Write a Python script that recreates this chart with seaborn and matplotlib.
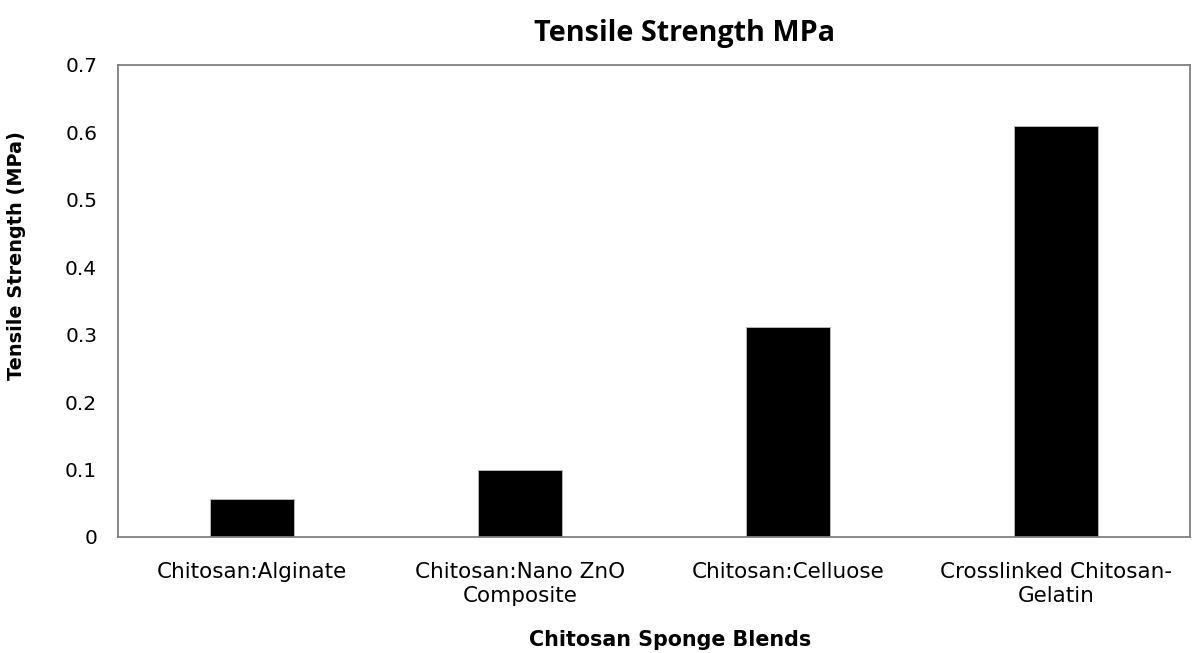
import matplotlib
matplotlib.use("Agg")
import matplotlib.pyplot as plt
import seaborn as sns
import pandas as pd

categories = ["Chitosan:Alginate", "Chitosan:Nano ZnO\nComposite", "Chitosan:Celluose", "Crosslinked Chitosan-\nGelatin"]
values = [0.057, 0.100, 0.312, 0.610]
yticks = [0, 0.1, 0.2, 0.3, 0.4, 0.5, 0.6, 0.7]
ytick_labels = ["0", "0.1", "0.2", "0.3", "0.4", "0.5", "0.6", "0.7"]

sns.set_theme(style="white")
plt.rcParams['font.family'] = ['DejaVu Sans']

df = pd.DataFrame({"cat": categories, "val": values})
fig = plt.figure(figsize=(11.92, 6.53), dpi=100)
ax = fig.add_axes([118/1192, 1 - 537/653, (1190 - 118)/1192, (537 - 65)/653])
sns.barplot(data=df, x="cat", y="val", color="black", width=0.31, ax=ax, saturation=1)
for p in ax.patches:
    p.set_edgecolor("#bfbfbf")
    p.set_linewidth(0.6)
ax.set_ylim(0, 0.7)
ax.set_yticks(yticks)
ax.set_yticklabels(ytick_labels, fontsize=14.5)
ax.tick_params(axis='x', labelsize=14, pad=18, length=0, colors="black")
ax.tick_params(axis='y', pad=15, length=0, colors="black")
for lab in ax.get_xticklabels():
    lab.set_linespacing(1.25)
for s in ["left", "bottom", "top", "right"]:
    ax.spines[s].set_visible(True)
    ax.spines[s].set_color("#808080")
    ax.spines[s].set_linewidth(1.3)
ax.set_xlabel("Chitosan Sponge Blends", fontsize=13.5, fontweight="bold", color="black")
ax.xaxis.set_label_coords((670 - 118) / 1072, -(640 - 537) / 472)
ax.xaxis.label.set_va("center")
ax.set_ylabel("Tensile Strength (MPa)", fontsize=12.5, fontweight="bold", color="black")
ax.yaxis.set_label_coords((17 - 118) / 1072, (537 - 256) / 472)
ax.yaxis.label.set_va("center")
title = fig.text(684/1192, 1 - 33/653, "Tensile Strength MPa", ha="center", va="center",
                 fontsize=19, fontweight="bold", family="Open Sans", color="black")

# fit text widths to the reference measurements
fig.canvas.draw()
r = fig.canvas.get_renderer()
def fit(t, target, horizontal=True):
    bb = t.get_window_extent(r)
    w = bb.width if horizontal else bb.height
    t.set_fontsize(t.get_fontsize() * target / w)
fit(title, 300)
fit(ax.xaxis.label, 283)
fit(ax.yaxis.label, 248, horizontal=False)
fit(ax.get_xticklabels()[0], 190)
fs = ax.get_xticklabels()[0].get_fontsize()
for lab in ax.get_xticklabels():
    lab.set_fontsize(fs)
fig.savefig("out.png", dpi=100, facecolor="white")
